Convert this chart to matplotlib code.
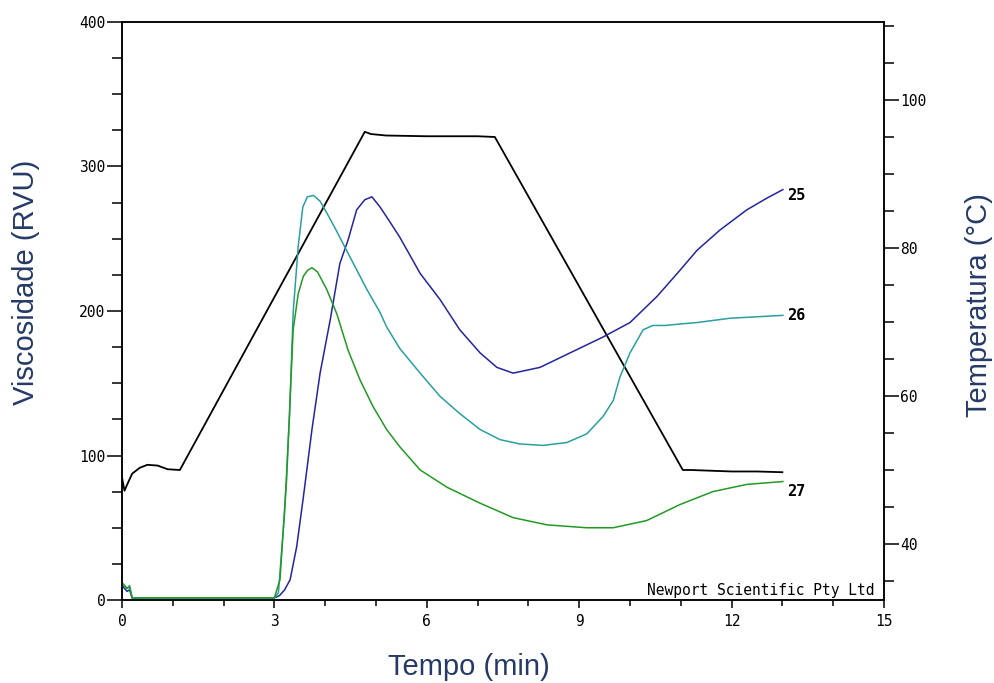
import matplotlib.pyplot as plt
from matplotlib.ticker import MultipleLocator


# viscosity curves (RVU)
t25 = [0, 0.1, 0.15, 0.2, 3.0, 3.1, 3.2, 3.31, 3.44, 3.57, 3.74, 3.90, 4.10, 4.29, 4.45,
       4.62, 4.78, 4.92, 5.08, 5.25, 5.47, 5.87, 6.26, 6.65, 7.05, 7.38, 7.70, 8.23, 8.82,
       9.47, 10.0, 10.53, 10.98, 11.32, 11.77, 12.30, 12.69, 13.01]
v25 = [10, 6, 7, 1.5, 1.5, 3, 7, 14, 37, 71, 118, 157, 194, 233, 249,
       270, 277, 279, 272, 263, 251, 226, 208, 187, 171, 161, 157, 161, 171,
       182, 192, 210, 228, 242, 256, 270, 278, 284]

t26 = [0, 0.1, 0.15, 0.2, 3.0, 3.08, 3.2, 3.3, 3.37, 3.47, 3.56, 3.65, 3.77, 3.9, 4.03,
       4.2, 4.42, 4.82, 5.08, 5.21, 5.47, 5.87, 6.26, 6.65, 7.05, 7.44, 7.83, 8.29, 8.76,
       9.15, 9.47, 9.67, 9.80, 10.0, 10.26, 10.45, 10.7, 10.98, 11.32, 11.97, 12.5, 13.01]
v26 = [12, 8, 10, 1.5, 1.5, 5, 60, 129, 199, 245, 272, 279, 280, 276, 268,
       257, 242, 215, 199, 189, 174, 157, 141, 129, 118, 111, 108, 107, 109,
       115, 127, 138, 154, 171, 187, 190, 190, 191, 192, 195, 196, 197]

t27 = [0, 0.1, 0.15, 0.2, 3.0, 3.11, 3.24, 3.37, 3.47, 3.57, 3.65, 3.74, 3.85, 4.03,
       4.23, 4.45, 4.69, 4.94, 5.21, 5.47, 5.87, 6.40, 7.05, 7.70, 8.37, 9.15, 9.67,
       10.33, 10.98, 11.63, 12.30, 13.01]
v27 = [12, 8, 9, 1.5, 1.5, 14, 83, 187, 212, 224, 228, 230, 227, 215,
       198, 173, 152, 134, 118, 106, 90, 78, 67, 57, 52, 50, 50,
       55, 66, 75, 80, 82]

# temperature profile (right axis)
t_temp = [0, 0.05, 0.1, 0.2, 0.35, 0.5, 0.7, 0.9, 1.14, 4.78, 4.9, 5.2, 6.0, 7.0, 7.34,
          11.04, 11.2, 12.0, 12.5, 13.0]
temp = [49, 47.2, 48, 49.5, 50.3, 50.7, 50.6, 50.1, 50.0, 95.7, 95.4, 95.2, 95.1, 95.1, 95.0,
        50.0, 50.0, 49.8, 49.8, 49.7]

series = [("25", t25, v25, "#2424a0", -4), ("26", t26, v26, "#2a9f9f", 0), ("27", t27, v27, "#229a22", -7)]

LABEL_COLOR = "#263a68"
TICK_FONT = dict(family="DejaVu Sans Mono", size=10.5)


def main():
    fig = plt.figure(figsize=(9.94, 6.83), dpi=100)
    ax = fig.add_axes([0.1227, 0.1215, 0.7666, 0.8463])
    ax2 = ax.twinx()

    ax2.plot(t_temp, temp, color="black", lw=1.3, zorder=3)
    for name, t, v, color, dy in series:
        ax.plot(t, v, color=color, lw=1.1)
        ax.annotate(name, (t[-1], v[-1]), xytext=(3, dy), textcoords="offset points",
                    ha="left", va="center", fontsize=11, weight="bold", family="DejaVu Sans Mono")

    ax.set_xlim(0, 15)
    ax.set_ylim(0, 400)
    ax2.set_ylim(32.43, 110.54)
    ax.set_zorder(ax2.get_zorder() + 1)
    ax.patch.set_visible(False)

    ax.xaxis.set_major_locator(MultipleLocator(3))
    ax.xaxis.set_minor_locator(MultipleLocator(1))
    ax.yaxis.set_major_locator(MultipleLocator(100))
    ax.yaxis.set_minor_locator(MultipleLocator(25))
    ax2.yaxis.set_major_locator(MultipleLocator(20))
    ax2.yaxis.set_minor_locator(MultipleLocator(5))

    for a in (ax, ax2):
        for s in a.spines.values():
            s.set_linewidth(1.1)
    ax.tick_params(axis="y", which="major", length=10.8, width=1.1, pad=1)
    ax.tick_params(axis="y", which="minor", length=7.2, width=1.1)
    ax.tick_params(axis="x", which="major", length=6, width=1.1, pad=4)
    ax.tick_params(axis="x", which="minor", length=4, width=1.1)
    ax2.tick_params(axis="y", which="major", length=10.8, width=1.1, pad=1)
    ax2.tick_params(axis="y", which="minor", length=7.2, width=1.1)
    for lab in ax.get_xticklabels() + ax.get_yticklabels() + ax2.get_yticklabels():
        lab.set_fontfamily(TICK_FONT["family"])
        lab.set_fontsize(TICK_FONT["size"])

    ax.set_xlabel("Tempo (min)", fontsize=21, color=LABEL_COLOR, family="Liberation Sans")
    ax.set_ylabel("Viscosidade (RVU)", fontsize=21, color=LABEL_COLOR, family="Liberation Sans")
    ax2.set_ylabel("Temperatura (°C)", fontsize=21, color=LABEL_COLOR, family="Liberation Sans")
    ax.xaxis.set_label_coords(0.455, -0.092)
    ax.yaxis.set_label_coords(-0.108, 0.55)
    ax2.yaxis.set_label_coords(1.106, 0.51)

    ax.text(0.987, 0.004, "Newport Scientific Pty Ltd", transform=ax.transAxes, ha="right", va="bottom",
            fontsize=10.5, family="DejaVu Sans Mono")

    fig.savefig("out.png", dpi=100)
    plt.close(fig)


if __name__ == "__main__":
    main()
